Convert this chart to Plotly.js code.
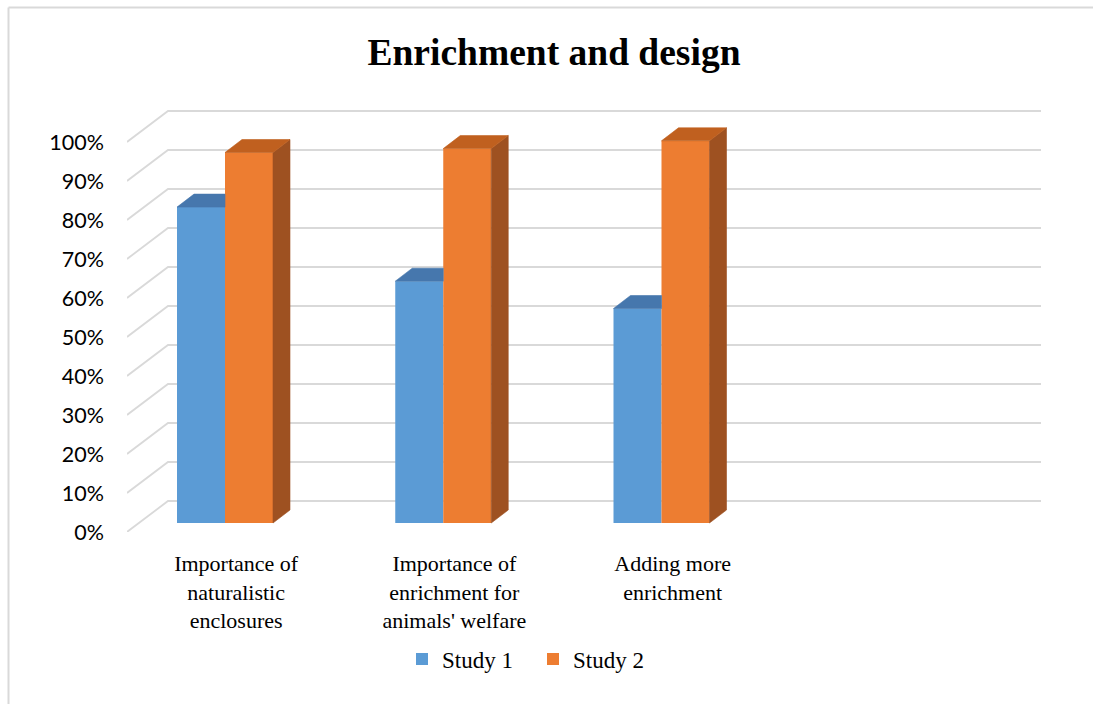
<!DOCTYPE html>
<html>
<head>
<meta charset="utf-8">
<script src="https://cdn.plot.ly/plotly-3.0.1.min.js"></script>
<style>
  html, body { margin: 0; padding: 0; background: #ffffff; }
  #chart { width: 1093px; height: 704px; }
</style>
</head>
<body>
<div id="chart"></div>
<script>
// ---- data ----
const categories = [
  'Importance of<br>naturalistic<br>enclosures',
  "Importance of<br>enrichment for<br>animals' welfare",
  'Adding more<br>enrichment'
];
const seriesNames = ['Study 1', 'Study 2'];
const study1 = [81, 62, 55];
const study2 = [95, 96, 98];
const percentTicks = [0, 10, 20, 30, 40, 50, 60, 70, 80, 90, 100];

// ---- colours ----
const frontColors = ['#5b9bd5', '#ed7d31'];
const topColors   = ['#4677ad', '#c0601f'];
const sideColors  = ['#3e6a9a', '#9e5121'];

// ---- pseudo-3D geometry (plot pixels) ----
const W = 1093, H = 704;
const M = { l: 127, r: 52, t: 100, b: 172 };
const plotW = W - M.l - M.r, plotH = H - M.t - M.b;
const pxPerSlot = 218.25;          // one category slot on the floor
const pxPerPct = 3.9;              // vertical pixels per percentage point
const slots = 4;                   // the floor has room for four slots
const wallDx = 41, wallDy = 31;    // depth of the floor / back wall
const barLeft = 50, barW = 48;     // front face of the first bar in a slot
const barLift = 9;                 // bars stand in the middle of the floor depth
const barDx = 17, barDy = 13;      // depth of each bar

const ux = px => px / pxPerSlot;   // pixels -> x-axis units
const uy = px => px / pxPerPct;    // pixels -> y-axis units (percent)

const xMax = ux(plotW);
const yMax = uy(plotH);

// ---- back wall grid (kept behind the bars) ----
let gridPath = '';
percentTicks.forEach(v => {
  const yb = v + uy(wallDy);
  gridPath += `M0,${v} L${ux(wallDx)},${yb} L${slots + ux(wallDx)},${yb} `;
});
const shapes = [{
  type: 'path', xref: 'x', yref: 'y', layer: 'below',
  path: gridPath, line: { color: '#d9d9d9', width: 1.8 }
}];

// outer chart frame (left and top edges)
const px2paperX = px => (px - M.l) / plotW;
const px2paperY = py => (H - M.b - py) / plotH;
shapes.push({ type: 'line', xref: 'paper', yref: 'paper', layer: 'above',
  x0: px2paperX(8.5), x1: px2paperX(8.5), y0: px2paperY(7.5), y1: px2paperY(H + 5),
  line: { color: '#d9d9d9', width: 2 } });
shapes.push({ type: 'line', xref: 'paper', yref: 'paper', layer: 'above',
  x0: px2paperX(8.5), x1: px2paperX(W + 5), y0: px2paperY(7.5), y1: px2paperY(7.5),
  line: { color: '#d9d9d9', width: 2 } });

// ---- bars ----
const seriesValues = [study1, study2];
const base = uy(barLift);
const bw = ux(barW), ddx = ux(barDx), ddy = uy(barDy);

const traces = [];

// front faces as real bars
seriesValues.forEach((vals, s) => {
  traces.push({
    type: 'bar',
    name: seriesNames[s],
    x: vals.map((_, i) => i + ux(barLeft) + (s + 0.5) * bw),
    y: vals,
    base: base,
    width: bw,
    marker: { color: frontColors[s], line: { width: 0 } },
    hoverinfo: 'skip'
  });
});

// top and side faces
seriesValues.forEach((vals, s) => {
  const last = s === seriesValues.length - 1;
  const topX = [], topY = [], sideX = [], sideY = [];
  vals.forEach((v, i) => {
    const x0 = i + ux(barLeft) + s * bw, x1 = x0 + bw;
    const t = base + v;
    const nextTaller = !last && seriesValues[s + 1][i] + base >= t + ddy;
    if (nextTaller) {
      // the neighbouring taller bar hides the part of the top behind it
      topX.push(x0, x1, x1, x0 + ddx, x0, null);
      topY.push(t, t, t + ddy, t + ddy, t, null);
    } else {
      topX.push(x0, x1, x1 + ddx, x0 + ddx, x0, null);
      topY.push(t, t, t + ddy, t + ddy, t, null);
    }
    if (last) {
      sideX.push(x1, x1 + ddx, x1 + ddx, x1, x1, null);
      sideY.push(base, base + ddy, t + ddy, t, base, null);
    }
  });
  if (sideX.length) {
    traces.push({ type: 'scatter', mode: 'lines', x: sideX, y: sideY, fill: 'toself',
      fillcolor: sideColors[s], line: { color: sideColors[s], width: 0.6 },
      hoverinfo: 'skip', showlegend: false });
  }
  traces.push({ type: 'scatter', mode: 'lines', x: topX, y: topY, fill: 'toself',
    fillcolor: topColors[s], line: { color: topColors[s], width: 0.6 },
    hoverinfo: 'skip', showlegend: false });
});

const layout = {
  width: W, height: H,
  margin: M,
  paper_bgcolor: '#ffffff',
  plot_bgcolor: 'rgba(0,0,0,0)',
  barmode: 'overlay',
  showlegend: true,
  title: {
    text: '<b>Enrichment and design</b>',
    font: { family: 'Liberation Serif, Times New Roman, serif', size: 37.5, color: '#000000' },
    xref: 'container', yref: 'container',
    x: 554 / W, y: 1 - 52 / H, xanchor: 'center', yanchor: 'middle'
  },
  xaxis: {
    range: [0, xMax], fixedrange: true,
    showgrid: false, zeroline: false, showline: false, ticks: '',
    tickmode: 'array',
    tickvals: categories.map((_, i) => i + 0.5),
    ticktext: categories,
    ticklabelstandoff: 16,
    tickfont: { family: 'Liberation Serif, Times New Roman, serif', size: 22, color: '#000000' }
  },
  yaxis: {
    range: [0, yMax], fixedrange: true,
    showgrid: false, zeroline: false, showline: false, ticks: '',
    tickmode: 'array',
    tickvals: percentTicks,
    ticktext: percentTicks.map(v => v + '%'),
    ticklabelstandoff: 22,
    tickfont: { family: 'Lato, Carlito, Liberation Sans, sans-serif', size: 21.5, color: '#000000' }
  },
  legend: {
    orientation: 'h',
    x: px2paperX(402), xanchor: 'left',
    y: px2paperY(659), yanchor: 'middle',
    font: { family: 'Liberation Serif, Times New Roman, serif', size: 23, color: '#000000' },
    bgcolor: 'rgba(0,0,0,0)',
    entrywidth: 86, entrywidthmode: 'pixels'
  },
  shapes: shapes
};

Plotly.newPlot('chart', traces, layout, { displayModeBar: false, staticPlot: true });
</script>
</body>
</html>
